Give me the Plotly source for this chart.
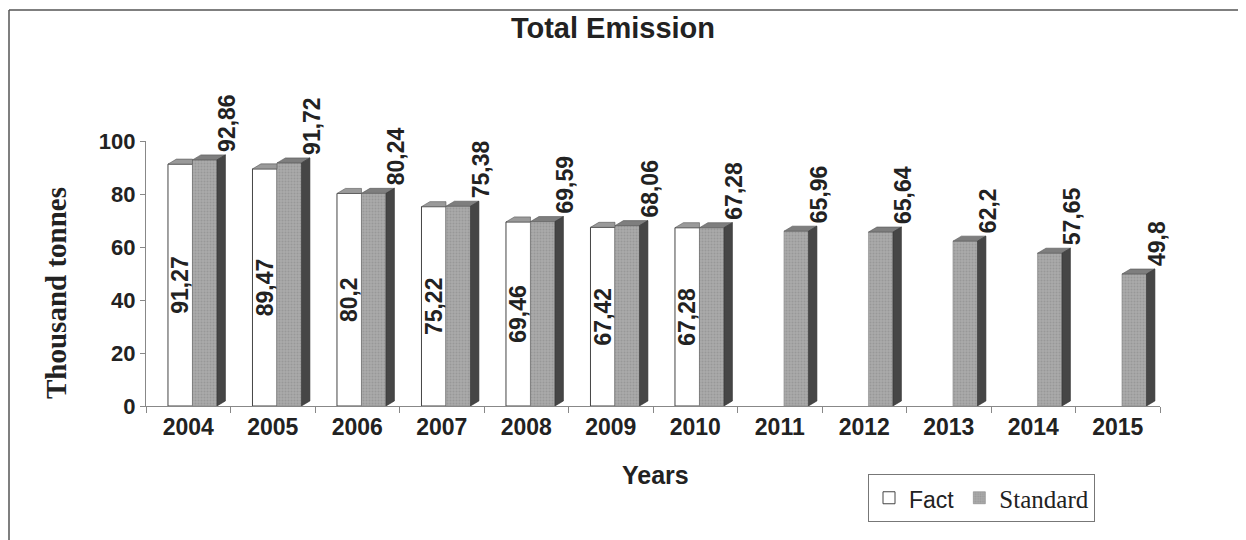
import plotly.graph_objects as go

years = ["2004", "2005", "2006", "2007", "2008", "2009", "2010",
         "2011", "2012", "2013", "2014", "2015"]
fact = [91.27, 89.47, 80.2, 75.22, 69.46, 67.42, 67.28,
        None, None, None, None, None]
standard = [92.86, 91.72, 80.24, 75.38, 69.59, 68.06, 67.28,
            65.96, 65.64, 62.2, 57.65, 49.8]
y_ticks = [0, 20, 40, 60, 80, 100]

def fmt(v):
    s = ("%.2f" % v).rstrip("0").rstrip(".")
    return s.replace(".", ",")

W, H = 1246, 540
OFF = 8  # page body margin in the browser
ML, MT = 146 - OFF, 141 - OFF
PW, PH = 1014, 265
MR, MB = W - ML - PW, H - MT - PH

def px_x(x):  # screenshot pixel -> paper x
    return (x - OFF - ML) / PW

def px_y(y):  # screenshot pixel -> paper y
    return (MT + PH - (y - OFF)) / PH

xs = list(range(len(years)))
BW = 0.29          # bar width (category units)
F_OFF = -0.24      # fact bar offset
S_OFF = F_OFF + BW # standard bar offset
DX = 0.10          # 3D depth in x (units)
DY = 1.9           # 3D depth in y (data units)

fig = go.Figure()

# Fact bars (front)
fig.add_trace(go.Bar(
    x=xs, y=fact,
    name='<span style="font-family:Liberation Sans;font-size:23px">Fact</span>',
    width=BW, offset=F_OFF,
    marker=dict(color="white", line=dict(color="#444", width=1)),
    text=["<b>" + fmt(v) + "</b>" if v is not None else "" for v in fact],
    textposition="inside", insidetextanchor="middle", textangle=-90,
    insidetextfont=dict(family="Liberation Sans", size=23, color="#222"),
    constraintext="none", hoverinfo="skip",
))
# Standard bars (front)
fig.add_trace(go.Bar(
    x=xs, y=standard, name="Standard", width=BW, offset=S_OFF,
    marker=dict(color="#a6a6a6", line=dict(color="#888", width=0.6),
                pattern=dict(shape=".", fgcolor="#858585", bgcolor="#ababab",
                             size=3, solidity=0.4)),
    hoverinfo="skip",
))
# invisible bars carrying the standard labels (placed over the 3D top)
fig.add_trace(go.Bar(
    x=xs, y=[v + DY for v in standard], width=0.12, offset=S_OFF + BW + 0.06,
    marker=dict(color="rgba(0,0,0,0)", line=dict(width=0)),
    text=["<b>" + fmt(v) + "</b>" for v in standard], textposition="outside",
    textangle=-90, constraintext="none",
    outsidetextfont=dict(family="Liberation Sans", size=23, color="#222"),
    cliponaxis=False, showlegend=False, hoverinfo="skip",
))

def poly_trace(pts_list, color, line_color):
    px, py = [], []
    for pts in pts_list:
        for (a, b) in pts:
            px.append(a); py.append(b)
        px.append(pts[0][0]); py.append(pts[0][1])
        px.append(None); py.append(None)
    return go.Scatter(x=px, y=py, mode="lines", fill="toself", fillcolor=color,
                      line=dict(color=line_color, width=0.6), showlegend=False,
                      hoverinfo="skip", cliponaxis=False)

# fact top faces
fact_tops = []
for i, v in zip(xs, fact):
    if v is None:
        continue
    x0 = i + F_OFF
    fact_tops.append([(x0, v), (x0 + BW, v), (x0 + BW, v + DY), (x0 + DX, v + DY)])
fig.add_trace(poly_trace(fact_tops, "#9a9a9a", "#555"))

# standard top & side faces
std_tops, std_sides = [], []
for i, v in zip(xs, standard):
    x0 = i + S_OFF
    std_tops.append([(x0, v), (x0 + BW, v), (x0 + BW + DX, v + DY), (x0 + DX, v + DY)])
    std_sides.append([(x0 + BW, 0), (x0 + BW + DX, DY), (x0 + BW + DX, v + DY), (x0 + BW, v)])
fig.add_trace(poly_trace(std_tops, "#7e7e7e", "#555"))
fig.add_trace(poly_trace(std_sides, "#464646", "#333"))

# frame lines (page border)
fig.add_shape(type="line", xref="paper", yref="paper", x0=px_x(9), x1=px_x(W + 20),
              y0=px_y(10), y1=px_y(10), line=dict(color="#555", width=1.5))
fig.add_shape(type="line", xref="paper", yref="paper", x0=px_x(9), x1=px_x(9),
              y0=px_y(10), y1=px_y(H + 20), line=dict(color="#555", width=1.5))

fig.update_layout(
    width=W, height=H,
    margin=dict(l=ML, r=MR, t=MT, b=MB, autoexpand=False),
    paper_bgcolor="white", plot_bgcolor="white",
    barmode="overlay",
    title=dict(text="<b>Total Emission</b>", x=(613 - OFF) / W, xanchor="center",
               y=1 - (28 - OFF) / H, yanchor="middle",
               font=dict(family="Liberation Sans", size=29, color="#222")),
    showlegend=True,
    legend=dict(x=px_x(868), y=px_y(474), xanchor="left", yanchor="top",
                orientation="h", bordercolor="#777", borderwidth=1,
                font=dict(family="Liberation Serif", size=25, color="#222"),
                traceorder="normal", itemwidth=30),
    xaxis=dict(range=[-0.5, len(years) - 0.5], tickmode="array", tickvals=xs,
               ticktext=["<b>" + y + "</b>" for y in years], ticks="",
               showgrid=False, zeroline=False,
               showline=True, linecolor="#888", linewidth=1.2,
               tickfont=dict(family="Liberation Sans", size=23, color="#222"),
               minor=dict(tick0=0.5, dtick=1, ticks="outside", ticklen=6,
                          tickcolor="#888", showgrid=False)),
    yaxis=dict(range=[0, 100], tickmode="array", tickvals=y_ticks,
               ticktext=["<b>%d</b>" % t for t in y_ticks],
               ticks="outside", ticklen=5, tickcolor="#888", showgrid=False,
               zeroline=False, showline=True, linecolor="#888", linewidth=1.2,
               tickfont=dict(family="Liberation Sans", size=22, color="#222")),
    annotations=[
        dict(text="<b>Thousand tonnes</b>", xref="paper", yref="paper",
             x=px_x(56), y=px_y(293), textangle=-90,
             showarrow=False, xanchor="center", yanchor="middle",
             font=dict(family="Liberation Serif", size=29, color="#222")),
        dict(text="<b>Years</b>", xref="paper", yref="paper",
             x=px_x(655), y=px_y(475), showarrow=False,
             xanchor="center", yanchor="middle",
             font=dict(family="Liberation Sans", size=25, color="#222")),
    ],
)

fig.write_html("out.html")
